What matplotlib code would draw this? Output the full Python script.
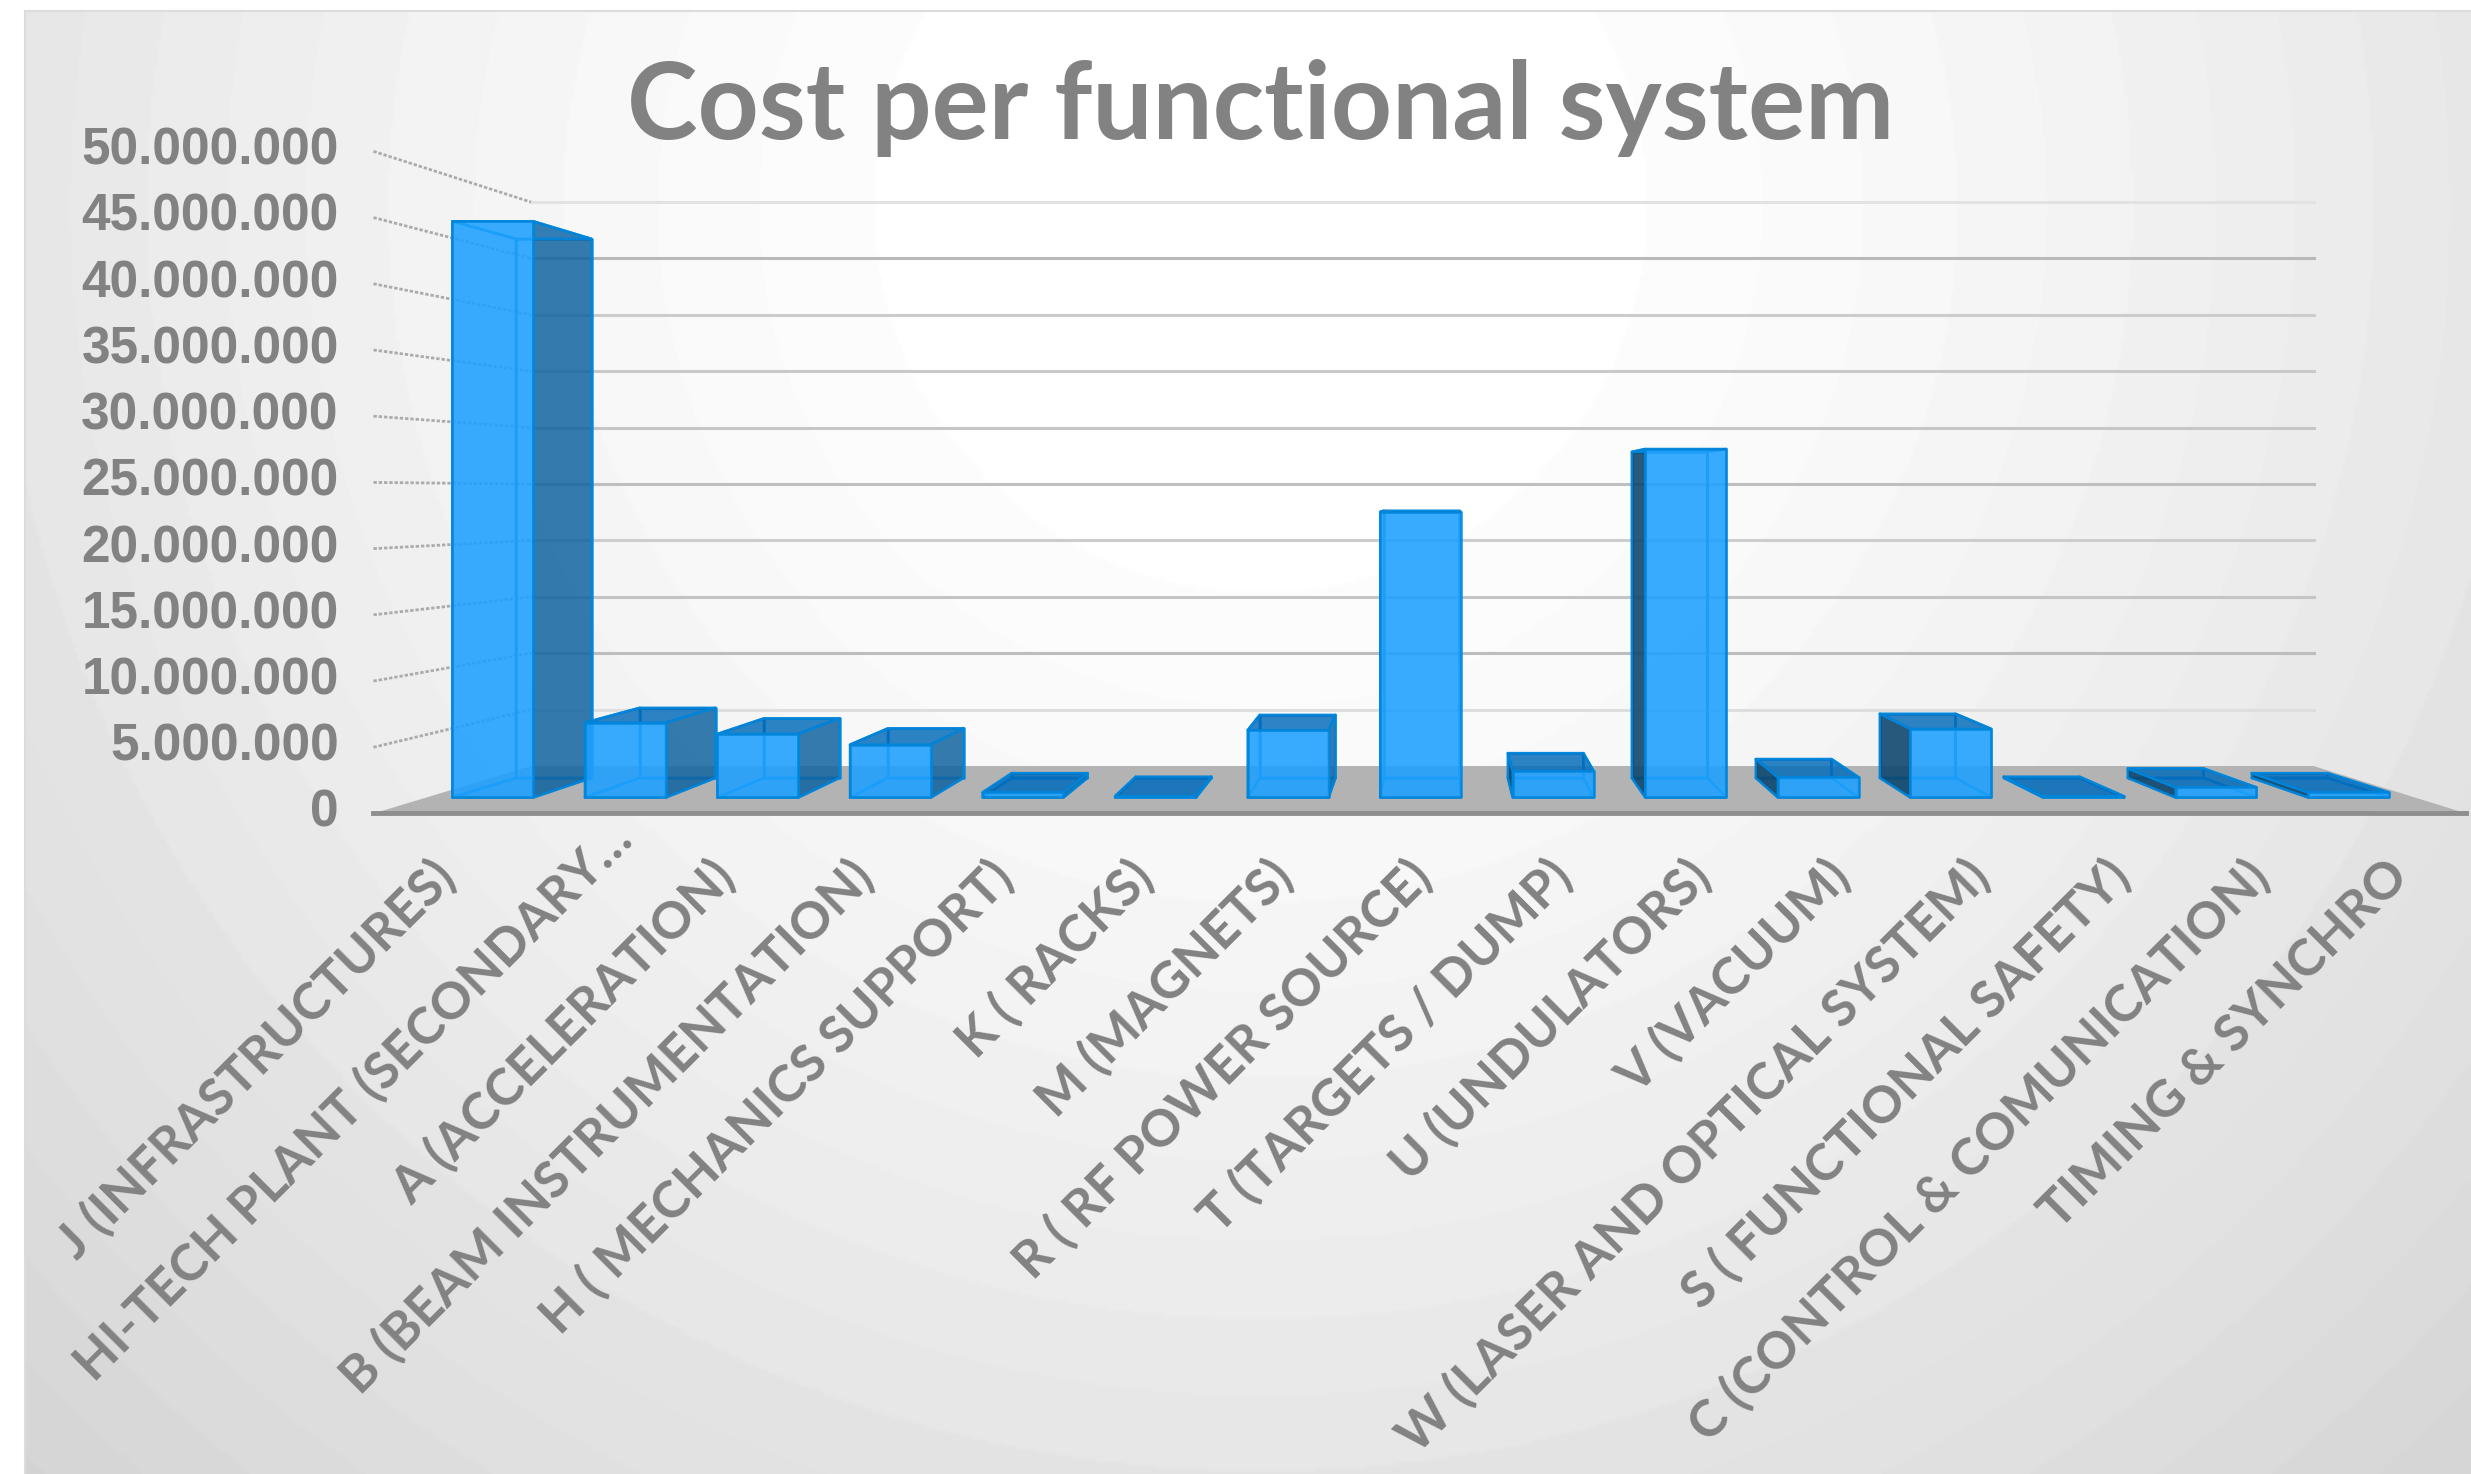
import numpy as np
import matplotlib
matplotlib.use("Agg")
import matplotlib.pyplot as plt
from matplotlib.patches import Polygon
from matplotlib.ticker import FuncFormatter
from matplotlib.transforms import ScaledTranslation

categories = ["J (INFRASTRUCTURES)", "HI-TECH PLANT (SECONDARY…", "A (ACCELERATION)",
              "B (BEAM INSTRUMENTATION)", "H ( MECHANICS SUPPORT)", "K ( RACKS)", "M (MAGNETS)",
              "R ( RF POWER SOURCE)", "T (TARGETS / DUMP)", "U (UNDULATORS)", "V (VACUUM)",
              "W (LASER AND OPTICAL SYSTEM)", "S ( FUNCTIONAL SAFETY)",
              "C (CONTROL & COMUNICATION)", "TIMING & SYNCHRO"]
values = [45.8e6, 5.95e6, 5.05e6, 4.2e6, 0.4e6, 0.1e6, 5.35e6, 22.7e6, 2.1e6, 27.7e6,
          1.6e6, 5.45e6, 0.1e6, 0.8e6, 0.4e6]
yticks = [0, 5e6, 10e6, 15e6, 20e6, 25e6, 30e6, 35e6, 40e6, 45e6, 50e6]
grid_colors = ["#a8a8a8", "#dedede", "#bdbdbd", "#c4c4c4", "#cdcdcd", "#bfbfbf",
               "#c6c6c6", "#c9c9c9", "#cccccc", "#b9b9b9", "#e2e2e2"]
title = "Cost per functional system"

W, H = 2471, 1474
KX, KY = W / 1568, H / 935
TXT = "#828282"

fig = plt.figure(figsize=(W / 100, H / 100), dpi=100, facecolor="white")

# chart-area background
bg = fig.add_axes([25 / W, 0, 1 - 25 / W, 1 - 11 / H], zorder=0)
xx, yy = np.meshgrid(np.linspace(16, 1568, 776), np.linspace(7, 935, 464))
r = np.hypot(xx - 800, (yy - 130) * 1.0)
g = 255 - 40 * np.clip((r - 170) / 900, 0, 1.2) ** 1.25
g = np.round(g / 2.4) * 2.4
bg.imshow(g, cmap="gray", vmin=0, vmax=255, aspect="auto", interpolation="bilinear")
bg.set_xticks([]); bg.set_yticks([])
for s in ("right", "bottom"):
    bg.spines[s].set_visible(False)
for s in ("left", "top"):
    bg.spines[s].set_color("#dcdcdc"); bg.spines[s].set_linewidth(1.5)

# plot axes: the front plane of the 3D box
L, R, T, B = 237 * KX, 1565 * KX, 96 * KY, 516 * KY
ax = fig.add_axes([L / W, 1 - B / H, (R - L) / W, (B - T) / H], zorder=1)
ax.patch.set_alpha(0)
ax.set_xlim(0, len(categories))
ax.set_ylim(0, 50e6)
for s in ax.spines.values():
    s.set_visible(False)

VX, VY = 7.613, 24.17e6
K_DEPTH = 0.174


def proj(x, v, d):
    s = 1 / (1 + K_DEPTH * d)
    return (VX + (x - VX) * s, VY + (v - VY) * s)


n = len(categories)
# floor
ax.add_patch(Polygon([proj(0, 0, 0), proj(n, 0, 0), proj(n, 0, 1), proj(0, 0, 1)],
                     fc="#b3b3b3", ec="none", zorder=2, clip_on=False))
ax.plot([0, n], [0, 0], color="#8e8e8e", lw=3.5, zorder=2.1, clip_on=False)

# walls
for t, c in zip(yticks, grid_colors):
    x0, y0 = proj(0, t, 0)
    x1, y1 = proj(0, t, 1)
    x2, y2 = proj(n, t, 1)
    if t > 0:
        ax.plot([x1, x2], [y1, y2], color=c, lw=2.2, zorder=1.5, clip_on=False)
        ax.plot([x0, x1], [y0, y1], color="#ababab", lw=2.0, ls=(0, (1.2, 0.7)),
                zorder=1.5, clip_on=False)

# bars
D0, D1 = 0.302, 0.72
BW = 0.61
EDGE = (0.0, 0.52, 0.86, 0.9)
EW = 1.8
order = sorted(range(n), key=lambda i: -abs(i + 0.5 - VX))
for i in order:
    v = values[i]
    xl, xr = i + 0.5 - BW / 2, i + 0.5 + BW / 2
    z = 3 + 0.1 * (n - abs(i + 0.5 - VX))
    corner = proj
    faces = []
    faces.append(([corner(xl, 0, D1), corner(xr, 0, D1), corner(xr, v, D1), corner(xl, v, D1)],
                  (0.0, 0.55, 0.95, 0.10)))  # back
    faces.append(([corner(xl, 0, D0), corner(xr, 0, D0), corner(xr, 0, D1), corner(xl, 0, D1)],
                  (0.0, 0.55, 0.95, 0.20)))  # bottom
    # side faces
    if xl > VX:
        faces.append(([corner(xl, 0, D0), corner(xl, 0, D1), corner(xl, v, D1), corner(xl, v, D0)],
                      (0.05, 0.27, 0.42, 0.88)))
        faces.append(([corner(xr, 0, D0), corner(xr, 0, D1), corner(xr, v, D1), corner(xr, v, D0)],
                      (0.0, 0.55, 0.95, 0.10)))
    else:
        faces.append(([corner(xl, 0, D0), corner(xl, 0, D1), corner(xl, v, D1), corner(xl, v, D0)],
                      (0.0, 0.55, 0.95, 0.10)))
        if xr < VX:
            faces.append(([corner(xr, 0, D0), corner(xr, 0, D1), corner(xr, v, D1), corner(xr, v, D0)],
                          (0.07, 0.39, 0.62, 0.83)))
    # top
    top_col = (0.0, 0.41, 0.72, 0.80) if v < VY else (0.0, 0.55, 0.95, 0.10)
    faces.append(([corner(xl, v, D0), corner(xr, v, D0), corner(xr, v, D1), corner(xl, v, D1)], top_col))
    # front
    faces.append(([corner(xl, 0, D0), corner(xr, 0, D0), corner(xr, v, D0), corner(xl, v, D0)],
                  (0.12, 0.63, 1.0, 0.87)))
    for k, (pts, col) in enumerate(faces):
        ax.add_patch(Polygon(pts, fc=col, ec=EDGE, lw=EW, zorder=z + 0.001 * k,
                             joinstyle="round", clip_on=False))

# axis text
ax.set_yticks(yticks)
ax.yaxis.set_major_formatter(FuncFormatter(lambda v, p: f"{int(v):,}".replace(",", ".")))
ax.tick_params(axis="y", length=0, pad=25)
for lab in ax.get_yticklabels():
    lab.set_fontfamily("Liberation Sans")
    lab.set_fontweight("bold")
    lab.set_fontsize(37)
    lab.set_color(TXT)
    lab.set_transform(lab.get_transform() + ScaledTranslation(0, 4 / 72, fig.dpi_scale_trans))

ax.set_xticks(np.arange(n) + 0.5)
ax.set_xticklabels(categories, rotation=45, ha="right", va="center", rotation_mode="anchor",
                   family="Lato", fontweight="bold", fontsize=37, color=TXT)
ax.tick_params(axis="x", length=0, pad=0)
off = ScaledTranslation(3 / 72, -40 / 72, fig.dpi_scale_trans)
off2 = ScaledTranslation(30 / 72, -13 / 72, fig.dpi_scale_trans)
for k, lab in enumerate(ax.get_xticklabels()):
    lab.set_transform(lab.get_transform() + (off2 if k == 1 else off))

fig.text(800 * KX / W, 1 - 68.5 * KY / H, title, ha="center", va="center", family="Lato",
         fontweight="bold", fontsize=76.8, color=TXT, zorder=5)

fig.savefig("out.png", dpi=100, facecolor="white")
